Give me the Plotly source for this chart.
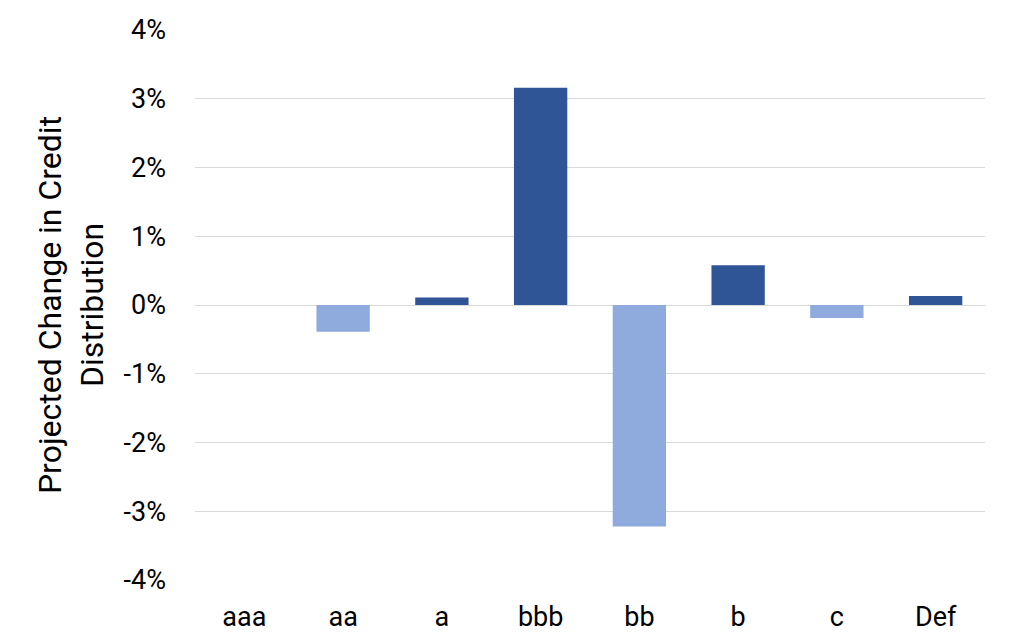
import plotly.graph_objects as go

ratings = ["aaa", "aa", "a", "bbb", "bb", "b", "c", "Def"]
change_pct = [0.0, -0.39, 0.11, 3.16, -3.22, 0.58, -0.19, 0.13]

tick_vals = [-4, -3, -2, -1, 0, 1, 2, 3, 4]
tick_text = ["-4%", "-3%", "-2%", "-1%", "0%", "1%", "2%", "3%", "4%"]

dark_blue = "#2F5597"
light_blue = "#8FAADC"
bar_colors = [dark_blue if v >= 0 else light_blue for v in change_pct]

fig = go.Figure()
fig.add_bar(x=ratings, y=change_pct, marker=dict(color=bar_colors, line=dict(width=0)),
            hoverinfo="skip")

# page body has an 8px margin, so plot margins are offset by 8
fig.update_layout(
    width=1024, height=640,
    margin=dict(l=187, r=47, t=22, b=68),
    paper_bgcolor="white",
    plot_bgcolor="white",
    bargap=0.46,
    showlegend=False,
    font=dict(family="Roboto", color="#000000", size=27),
    xaxis=dict(showgrid=False, zeroline=False, showline=False, automargin=False,
               ticks="", ticklabelstandoff=18, tickfont=dict(size=27)),
    yaxis=dict(range=[-4, 4], tickvals=tick_vals, ticktext=tick_text,
               showgrid=True, gridcolor="#D9D9D9", gridwidth=1.3,
               zeroline=True, zerolinecolor="#D9D9D9", zerolinewidth=1.3,
               showline=False, ticks="", ticklabelstandoff=28, automargin=False,
               tickfont=dict(size=27),
               title=dict(text="Projected Change in Credit<br>Distribution",
                          font=dict(size=32), standoff=10)),
)

fig.write_html("out.html")
